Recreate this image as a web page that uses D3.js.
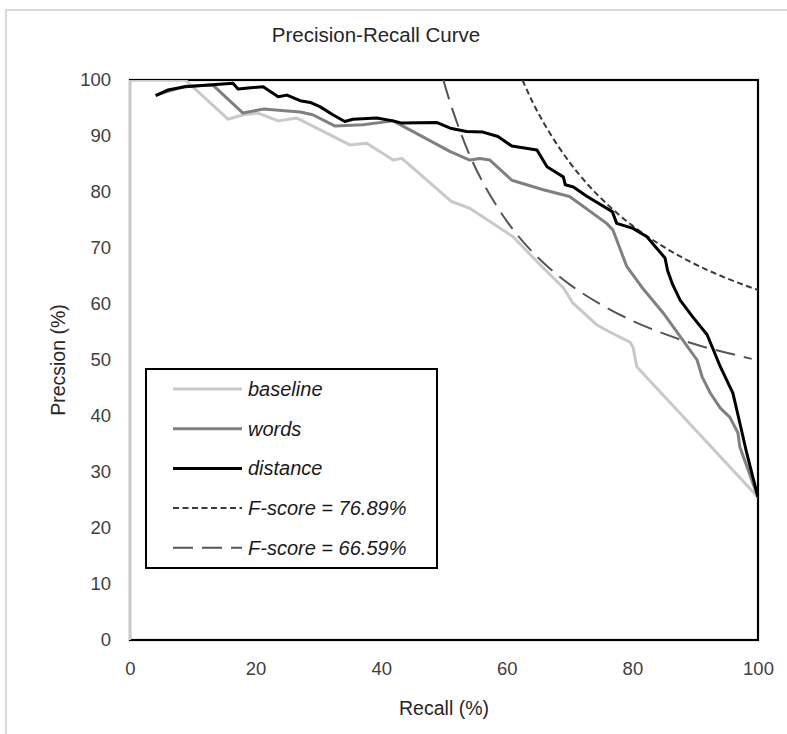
<!DOCTYPE html>
<html lang="en">

<head>
    <title>Precision-Recall Curve</title>
    <meta charset="UTF-8">
    <script src="https://d3js.org/d3.v7.min.js"></script>
    <style>
        body {
            margin: 0;
            background: #fff;
        }

        svg text {
            font-family: "Liberation Sans", Arial, sans-serif;
        }
    </style>
</head>

<body>
    <svg width="787" height="734"></svg>

    <script>
        // ---- data (recall %, precision %) ----
        const baselineRecall = [0, 8.8, 15.6, 18, 20.4, 23.6, 26.6, 35, 37.7, 41.9, 43.3, 51.2, 54.1, 61, 65.3, 69, 70.5, 74.3, 76.4, 79.6, 80.1, 80.7, 100];
        const baselinePrecision = [100, 100, 93, 93.8, 94.1, 92.7, 93.2, 88.4, 88.7, 85.7, 86, 78.3, 77.1, 72, 67, 62.9, 60.2, 56.3, 55, 53.2, 52.3, 48.8, 25.5];

        const wordsRecall = [4.1, 8.8, 13.2, 18, 21.2, 27.1, 29.1, 32.6, 37.1, 41.9, 51, 54.1, 55.7, 57.3, 60.8, 65.8, 70, 75.9, 76.9, 79.1, 81.5, 84.9, 88, 90.3, 91.1, 92.4, 94, 95.5, 96.8, 97.1, 100];
        const wordsPrecision = [97.3, 98.9, 99.1, 94.1, 94.8, 94.3, 93.8, 91.8, 92, 92.7, 87.2, 85.7, 86, 85.7, 82.1, 80.4, 79.2, 74.4, 73.2, 66.7, 63, 58.4, 53.6, 50, 47, 44.1, 41.4, 39.8, 37, 34.5, 25.5];

        const distanceRecall = [4.1, 6, 8.8, 16.4, 17.2, 21.2, 23.6, 25, 27.1, 28.7, 30.3, 32.3, 34.2, 35.5, 39.3, 41.9, 43.3, 48.9, 51, 53.6, 56.2, 58.6, 60.8, 64.8, 66.4, 68, 69, 69.3, 70.6, 72.8, 76.8, 77.5, 80.1, 82.3, 83.9, 85.2, 85.6, 86.4, 87.6, 89.6, 91.9, 94, 96, 97.1, 98.2, 100];
        const distancePrecision = [97.2, 98.2, 98.8, 99.4, 98.4, 98.8, 97, 97.3, 96.3, 96, 95.2, 93.8, 92.6, 93, 93.2, 92.7, 92.3, 92.4, 91.4, 90.8, 90.7, 89.9, 88.2, 87.5, 84.5, 83.4, 82.7, 81.3, 80.9, 79.2, 76.5, 74.4, 73.5, 72, 69.9, 68.2, 66, 63.5, 60.7, 57.7, 54.5, 48.8, 44.1, 38.8, 33.4, 25.5];

        // iso F-score curves
        const f77Recall = [62.5, 64, 66, 68, 70, 73, 76, 80, 85, 90, 95, 100];
        const f77Precision = [100, 96.3, 92.1, 88.5, 85.3, 81.2, 77.8, 74, 70.2, 67.1, 64.6, 62.5];

        const f67Recall = [49.9, 51, 52, 54, 56, 58, 60, 63, 66, 70, 75, 80, 85, 90, 95, 99];
        const f67Precision = [100, 95.9, 92.6, 86.8, 82.1, 78.2, 74.8, 70.6, 67.2, 63.5, 59.9, 57, 54.7, 52.8, 51.3, 50.2];

        const xTicks = [0, 20, 40, 60, 80, 100];
        const yTicks = [0, 10, 20, 30, 40, 50, 60, 70, 80, 90, 100];

        const legendLabels = ["baseline", "words", "distance", "F-score = 76.89%", "F-score = 66.59%"];

        // ---- styles ----
        const styles = [
            { color: "#c9c9c9", width: 3, dash: null },
            { color: "#808080", width: 3, dash: null },
            { color: "#000000", width: 3, dash: null },
            { color: "#3a3a3a", width: 2, dash: "6,3.5" },
            { color: "#555555", width: 2, dash: "20,9" }
        ];

        const zip = (rs, ps) => rs.map((r, i) => [r, ps[i]]);
        const series = [
            zip(baselineRecall, baselinePrecision),
            zip(wordsRecall, wordsPrecision),
            zip(distanceRecall, distancePrecision),
            zip(f77Recall, f77Precision),
            zip(f67Recall, f67Precision)
        ];

        let svg = d3.select("svg");

        // outer chart border
        svg.append("rect")
            .attr("x", 6).attr("y", 10)
            .attr("width", 800).attr("height", 800)
            .attr("fill", "none")
            .attr("stroke", "#d9d9d9")
            .attr("stroke-width", 2);

        const x = d3.scaleLinear().domain([0, 100]).range([130, 758]);
        const y = d3.scaleLinear().domain([0, 100]).range([640, 80]);

        // clip so the curves stay inside the plot area
        svg.append("clipPath").attr("id", "plotclip")
            .append("rect")
            .attr("x", x(0)).attr("y", y(100))
            .attr("width", x(100) - x(0)).attr("height", y(0) - y(100));

        // plot area frame (black top/right/bottom, grey left axis)
        svg.append("rect")
            .attr("x", x(0)).attr("y", y(100))
            .attr("width", x(100) - x(0)).attr("height", y(0) - y(100))
            .attr("fill", "none")
            .attr("stroke", "#000")
            .attr("stroke-width", 2.2);
        svg.append("line")
            .attr("x1", x(0)).attr("x2", x(0))
            .attr("y1", y(0)).attr("y2", y(100))
            .attr("stroke", "#c9c9c9")
            .attr("stroke-width", 2.2);

        // axes
        const xAxis = svg.append("g")
            .attr("transform", `translate(0,${y(0)})`)
            .call(d3.axisBottom(x).tickValues(xTicks).tickSize(0).tickPadding(22));
        const yAxis = svg.append("g")
            .attr("transform", `translate(${x(0)},0)`)
            .call(d3.axisLeft(y).tickValues(yTicks).tickSize(0).tickPadding(19));
        [xAxis, yAxis].forEach(function (g) {
            g.select(".domain").remove();
            g.selectAll("text")
                .attr("font-size", "18.5px")
                .attr("fill", "#404040");
        });

        // series
        const line = d3.line()
            .x(d => x(d[0]))
            .y(d => y(d[1]));
        const smooth = d3.line()
            .x(d => x(d[0]))
            .y(d => y(d[1]))
            .curve(d3.curveMonotoneX);

        // draw the F-score curves first, then the PR curves on top
        const order = [4, 3, 0, 1, 2];
        svg.append("g").attr("clip-path", "url(#plotclip)")
            .selectAll("path")
            .data(order)
            .enter()
            .append("path")
            .attr("d", i => (i >= 3 ? smooth : line)(series[i]))
            .attr("fill", "none")
            .attr("stroke", i => styles[i].color)
            .attr("stroke-width", i => styles[i].width)
            .attr("stroke-dasharray", i => styles[i].dash)
            .attr("stroke-linejoin", "round");

        // titles
        svg.append("text")
            .attr("x", 376).attr("y", 42)
            .attr("text-anchor", "middle")
            .attr("font-size", "20.5px")
            .attr("fill", "#262626")
            .text("Precision-Recall Curve");

        svg.append("text")
            .attr("x", (x(0) + x(100)) / 2).attr("y", 715)
            .attr("text-anchor", "middle")
            .attr("font-size", "19.5px")
            .attr("fill", "#262626")
            .text("Recall (%)");

        svg.append("text")
            .attr("transform", "translate(65,360) rotate(-90)")
            .attr("text-anchor", "middle")
            .attr("font-size", "19.5px")
            .attr("fill", "#262626")
            .text("Precsion (%)");

        // legend
        const legend = svg.append("g");
        legend.append("rect")
            .attr("x", 146).attr("y", 369)
            .attr("width", 291).attr("height", 199)
            .attr("fill", "#fff")
            .attr("stroke", "#000")
            .attr("stroke-width", 2);

        const rows = legend.selectAll("g.row")
            .data(legendLabels)
            .enter()
            .append("g")
            .attr("class", "row")
            .attr("transform", (d, i) => `translate(0,${389 + i * 39.7})`);
        rows.append("line")
            .attr("x1", 173).attr("x2", 242)
            .attr("y1", 0).attr("y2", 0)
            .attr("stroke", (d, i) => styles[i].color)
            .attr("stroke-width", (d, i) => styles[i].width)
            .attr("stroke-dasharray", (d, i) => styles[i].dash);
        rows.append("text")
            .attr("x", 248).attr("y", 7)
            .attr("font-size", "20px")
            .attr("font-style", "italic")
            .attr("fill", "#1a1a1a")
            .text(d => d);
    </script>
</body>

</html>
